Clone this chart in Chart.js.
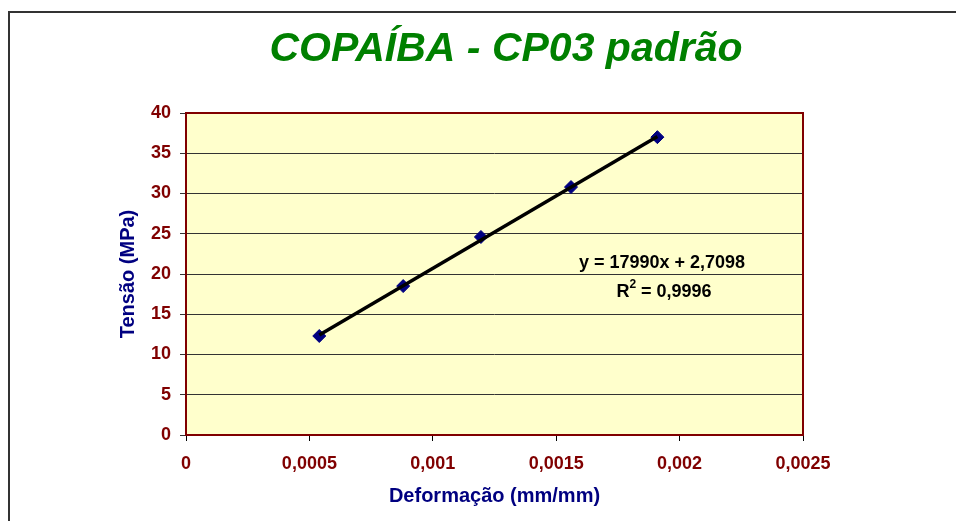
<!DOCTYPE html>
<html lang="pt">
<head>
<meta charset="utf-8">
<title>COPAÍBA - CP03 padrão</title>
<script src="https://cdn.jsdelivr.net/npm/chart.js@4"></script>
<style>
    html, body { margin: 0; padding: 0; background: #ffffff; }
    #chart { display: block; }
</style>
</head>
<body>
<canvas id="chart" width="956" height="521"></canvas>
<script>
// COPAÍBA - CP03 padrão : tensão x deformação

// Data
const deformacao = [0.00054, 0.00088, 0.001195, 0.00156, 0.00191];   // mm/mm
const tensao = [12.3, 18.5, 24.6, 30.8, 37.0];                       // MPa

// Trendline shown on the chart
const trendSlope = 17990;
const trendIntercept = 2.7098;
const trendLabel = 'y = 17990x + 2,7098';
const r2Label = '0,9996';

// Axes
const xTicks = [0, 0.0005, 0.001, 0.0015, 0.002, 0.0025];
const yTicks = [0, 5, 10, 15, 20, 25, 30, 35, 40];

const FONT = '"Liberation Sans", Arial, sans-serif';
const MAROON = '#800000';
const NAVY = '#000080';

const points = deformacao.map((x, i) => ({ x: x, y: tensao[i] }));
const x0 = deformacao[0];
const x1 = deformacao[deformacao.length - 1];
const trend = [
    { x: x0, y: trendSlope * x0 + trendIntercept },
    { x: x1, y: trendSlope * x1 + trendIntercept }
];

const fmt = v => String(Math.round(v * 10000) / 10000).replace('.', ',');

// Background, frame, title, plot border and equation
const decor = {
    id: 'decor',
    beforeDraw(chart) {
        const { ctx, chartArea: a } = chart;
        ctx.save();
        // outer frame (only top and left visible)
        ctx.strokeStyle = '#333333';
        ctx.lineWidth = 2;
        ctx.strokeRect(9, 12, 1000, 600);
        // plot background
        ctx.fillStyle = '#FFFFCC';
        ctx.fillRect(a.left, a.top, a.right - a.left, a.bottom - a.top);
        // title
        ctx.fillStyle = '#008000';
        ctx.font = 'italic bold 41px ' + FONT;
        ctx.textAlign = 'center';
        ctx.textBaseline = 'alphabetic';
        ctx.fillText('COPAÍBA - CP03 padrão', 506, 61);
        ctx.restore();
    },
    afterDraw(chart) {
        const { ctx, chartArea: a } = chart;
        ctx.save();
        ctx.strokeStyle = MAROON;
        ctx.lineWidth = 2;
        ctx.strokeRect(a.left, a.top, a.right - a.left, a.bottom - a.top);

        // equation text
        ctx.fillStyle = '#000000';
        ctx.textBaseline = 'middle';
        ctx.font = 'bold 18px ' + FONT;
        ctx.textAlign = 'center';
        ctx.fillText(trendLabel, 662, 263);

        const partR = 'R';
        const partRest = ' = ' + r2Label;
        const wR = ctx.measureText(partR).width;
        const wRest = ctx.measureText(partRest).width;
        ctx.font = 'bold 12px ' + FONT;
        const wSup = ctx.measureText('2').width;
        let sx = 664 - (wR + wSup + wRest) / 2;
        ctx.textAlign = 'left';
        ctx.font = 'bold 18px ' + FONT;
        ctx.fillText(partR, sx, 292);
        ctx.font = 'bold 12px ' + FONT;
        ctx.fillText('2', sx + wR, 285);
        ctx.font = 'bold 18px ' + FONT;
        ctx.fillText(partRest, sx + wR + wSup, 292);
        ctx.restore();
    }
};

new Chart(document.getElementById('chart'), {
    type: 'scatter',
    data: {
        datasets: [
            {
                label: 'Linear',
                data: trend,
                showLine: true,
                borderColor: '#000000',
                borderWidth: 3.5,
                pointRadius: 0,
                fill: false,
                order: 0
            },
            {
                label: 'CP03',
                data: points,
                showLine: false,
                pointStyle: 'rectRot',
                pointRadius: 6.5,
                backgroundColor: NAVY,
                borderColor: NAVY,
                borderWidth: 1,
                order: 1
            }
        ]
    },
    options: {
        responsive: false,
        animation: false,
        layout: { padding: { left: 0, top: 113, right: 153, bottom: 0 } },
        plugins: {
            legend: { display: false },
            tooltip: { enabled: false }
        },
        scales: {
            x: {
                type: 'linear',
                min: xTicks[0],
                max: xTicks[xTicks.length - 1],
                afterBuildTicks: s => { s.ticks = xTicks.map(v => ({ value: v })); },
                afterFit: s => { s.height = 86; },
                border: { display: false },
                grid: {
                    drawOnChartArea: false,
                    drawTicks: true,
                    tickLength: 6,
                    color: '#000000'
                },
                ticks: {
                    color: MAROON,
                    font: { family: FONT, size: 18, weight: 'bold' },
                    padding: 12,
                    maxRotation: 0,
                    callback: v => fmt(v)
                },
                title: {
                    display: true,
                    text: 'Deformação (mm/mm)',
                    color: NAVY,
                    font: { family: FONT, size: 20, weight: 'bold' },
                    padding: { top: 0, bottom: 13 }
                }
            },
            y: {
                type: 'linear',
                min: yTicks[0],
                max: yTicks[yTicks.length - 1],
                afterBuildTicks: s => { s.ticks = yTicks.map(v => ({ value: v })); },
                afterFit: s => { s.width = 186; },
                border: { display: false },
                grid: {
                    drawTicks: true,
                    tickLength: 6,
                    color: '#333333',
                    lineWidth: 1
                },
                ticks: {
                    color: MAROON,
                    font: { family: FONT, size: 18, weight: 'bold' },
                    padding: 9,
                    callback: v => fmt(v)
                },
                title: {
                    display: true,
                    text: 'Tensão (MPa)',
                    color: NAVY,
                    font: { family: FONT, size: 20, weight: 'bold' },
                    padding: { top: 116, bottom: 0 }
                }
            }
        }
    },
    plugins: [decor]
});
</script>
</body>
</html>
